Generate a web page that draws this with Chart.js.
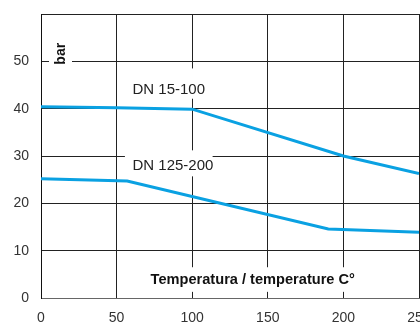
<!DOCTYPE html>
<html>
<head>
<meta charset="utf-8">
<script src="https://cdn.jsdelivr.net/npm/chart.js@4.4.0/dist/chart.umd.min.js"></script>
<style>
  html, body { margin: 0; padding: 0; background: #fff; }
  #wrap { width: 420px; height: 324px; overflow: hidden; }
  #wrap div { width: 450px; height: 324px; }
</style>
</head>
<body>
<div id="wrap"><div><canvas id="chart"></canvas></div></div>
<script>
"use strict";
// data
let smallTemps = [0, 50, 100, 200, 250];
let smallBar = [40.4, 40.2, 39.9, 30, 26.3];
let bigTemps = [0, 57, 190, 250];
let bigBar = [25.2, 24.7, 14.6, 13.9];
let xTicks = [0, 50, 100, 150, 200, 250];
let yTicks = [0, 10, 20, 30, 40, 50];

let seriesNames = ["DN 15-100", "DN 125-200"];
let yTitle = "bar";
let xTitle = "Temperatura / temperature C°";

function toPoints(xs, ys) {
  let pts = [];
  for (let i = 0; i < xs.length; i++) {
    pts.push({ x: xs[i], y: ys[i] });
  }
  return pts;
}

// white boxed labels drawn over the grid, under the lines
let boxLabels = {
  id: "boxLabels",
  beforeDatasetsDraw(chart) {
    let ctx = chart.ctx;
    let xs = chart.scales.x;
    let ys = chart.scales.y;
    ctx.save();

    function box(x1, y1, x2, y2) {
      ctx.fillStyle = "#fff";
      ctx.fillRect(x1, y1, x2 - x1, y2 - y1);
    }

    // bar
    box(49, ys.getPixelForValue(55.5), 72, ys.getPixelForValue(48.7));
    ctx.save();
    ctx.translate(61, ys.getPixelForValue(51.6));
    ctx.rotate(-Math.PI / 2);
    ctx.fillStyle = "#111";
    ctx.font = "bold 14px 'Liberation Sans', Arial, sans-serif";
    ctx.textAlign = "center";
    ctx.textBaseline = "middle";
    ctx.fillText(yTitle, 0, 0);
    ctx.restore();

    ctx.font = "15px 'Liberation Sans', Arial, sans-serif";
    ctx.textAlign = "left";
    ctx.textBaseline = "middle";

    // DN 15-100
    box(xs.getPixelForValue(58), ys.getPixelForValue(48.5), xs.getPixelForValue(114), ys.getPixelForValue(42.1));
    ctx.fillStyle = "#222";
    ctx.fillText(seriesNames[0], xs.getPixelForValue(60.5), ys.getPixelForValue(44));

    // DN 125-200
    box(xs.getPixelForValue(55.5), ys.getPixelForValue(31.2), xs.getPixelForValue(113.5), ys.getPixelForValue(25.7));
    ctx.fillStyle = "#222";
    ctx.fillText(seriesNames[1], xs.getPixelForValue(60.5), ys.getPixelForValue(28));

    // axis title
    box(xs.getPixelForValue(68), ys.getPixelForValue(6.5), xs.getPixelForValue(217), ys.getPixelForValue(1.3));
    ctx.fillStyle = "#111";
    ctx.font = "bold 14.6px 'Liberation Sans', Arial, sans-serif";
    ctx.fillText(xTitle, xs.getPixelForValue(72.5), ys.getPixelForValue(3.85));

    ctx.restore();
  }
};

let ctx = document.getElementById("chart").getContext("2d");

let myChart = new Chart(ctx, {
  type: "line",
  data: {
    datasets: [
      {
        label: seriesNames[0],
        data: toPoints(smallTemps, smallBar),
        borderColor: "#0aa1e2",
        borderWidth: 3,
        pointRadius: 0,
        fill: false,
        tension: 0,
      },
      {
        label: seriesNames[1],
        data: toPoints(bigTemps, bigBar),
        borderColor: "#0aa1e2",
        borderWidth: 3,
        pointRadius: 0,
        fill: false,
        tension: 0,
      },
    ],
  },
  options: {
    responsive: true,
    maintainAspectRatio: false,
    animation: false,
    layout: { padding: { top: 14, right: 31, left: 0, bottom: 0 } },
    plugins: {
      legend: { display: false },
      tooltip: { enabled: false },
    },
    scales: {
      x: {
        type: "linear",
        min: 0,
        max: 250,
        afterBuildTicks: (scale) => {
          scale.ticks = xTicks.map((v) => ({ value: v }));
        },
        afterFit: (scale) => {
          scale.height = 26;
          scale.paddingLeft = 0;
          scale.paddingRight = 0;
        },
        grid: { color: "#222", lineWidth: 1, drawTicks: false },
        border: { color: "#666", width: 1 },
        ticks: {
          color: "#333",
          padding: 12,
          maxRotation: 0,
          font: { family: "'Liberation Sans', Arial, sans-serif", size: 14 },
        },
      },
      y: {
        min: 0,
        max: 60,
        afterBuildTicks: (scale) => {
          scale.ticks = yTicks.concat([60]).map((v) => ({ value: v }));
        },
        afterFit: (scale) => {
          scale.width = 41;
          scale.paddingTop = 0;
          scale.paddingBottom = 0;
        },
        grid: { color: "#222", lineWidth: 1, drawTicks: false },
        border: { color: "#111", width: 1 },
        ticks: {
          color: "#333",
          padding: 12,
          callback: (v) => (v === 60 ? "" : v),
          font: { family: "'Liberation Sans', Arial, sans-serif", size: 14 },
        },
      },
    },
  },
  plugins: [boxLabels],
});
</script>
</body>
</html>
